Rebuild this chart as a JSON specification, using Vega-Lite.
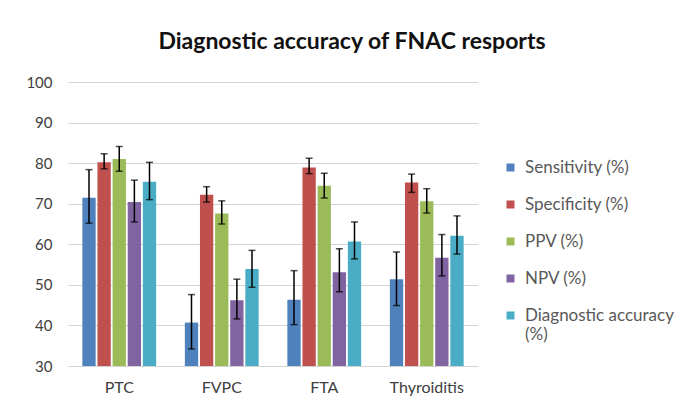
{
  "$schema": "https://vega.github.io/schema/vega-lite/v6.json",
  "width": 410,
  "height": 284,
  "autosize": {"type": "none"},
  "padding": {"left": 68, "top": 82, "right": 206, "bottom": 41},
  "background": "white",
  "title": {
    "text": "Diagnostic accuracy of FNAC resports",
    "font": "Lato",
    "fontSize": 23,
    "fontWeight": "bold",
    "color": "#111111",
    "anchor": "middle",
    "dx": 79,
    "offset": 21
  },
  "config": {
    "view": {"stroke": null},
    "font": "Lato"
  },
  "data": {
    "values": [
      {"group": "PTC", "measure": "Sensitivity (%)", "value": 71.5, "lo": 65.2, "hi": 78.4},
      {"group": "PTC", "measure": "Specificity (%)", "value": 80.2, "lo": 78.6, "hi": 82.3},
      {"group": "PTC", "measure": "PPV (%)", "value": 81.0, "lo": 78.0, "hi": 84.1},
      {"group": "PTC", "measure": "NPV (%)", "value": 70.4, "lo": 65.5, "hi": 75.8},
      {"group": "PTC", "measure": "Diagnostic accuracy (%)", "value": 75.4, "lo": 71.0, "hi": 80.2},
      {"group": "FVPC", "measure": "Sensitivity (%)", "value": 40.7, "lo": 34.2, "hi": 47.6},
      {"group": "FVPC", "measure": "Specificity (%)", "value": 72.2, "lo": 70.4, "hi": 74.2},
      {"group": "FVPC", "measure": "PPV (%)", "value": 67.6, "lo": 65.0, "hi": 70.7},
      {"group": "FVPC", "measure": "NPV (%)", "value": 46.2, "lo": 41.6, "hi": 51.4},
      {"group": "FVPC", "measure": "Diagnostic accuracy (%)", "value": 53.9, "lo": 49.4, "hi": 58.5},
      {"group": "FTA", "measure": "Sensitivity (%)", "value": 46.3, "lo": 40.2, "hi": 53.5},
      {"group": "FTA", "measure": "Specificity (%)", "value": 78.9, "lo": 77.4, "hi": 81.2},
      {"group": "FTA", "measure": "PPV (%)", "value": 74.4, "lo": 71.4, "hi": 77.5},
      {"group": "FTA", "measure": "NPV (%)", "value": 53.1, "lo": 48.3, "hi": 58.9},
      {"group": "FTA", "measure": "Diagnostic accuracy (%)", "value": 60.7, "lo": 56.4, "hi": 65.5},
      {"group": "Thyroiditis", "measure": "Sensitivity (%)", "value": 51.4, "lo": 44.9, "hi": 58.1},
      {"group": "Thyroiditis", "measure": "Specificity (%)", "value": 75.2, "lo": 72.8, "hi": 77.3},
      {"group": "Thyroiditis", "measure": "PPV (%)", "value": 70.6, "lo": 67.7, "hi": 73.7},
      {"group": "Thyroiditis", "measure": "NPV (%)", "value": 56.7, "lo": 52.2, "hi": 62.4},
      {"group": "Thyroiditis", "measure": "Diagnostic accuracy (%)", "value": 62.1, "lo": 57.6, "hi": 67.0}
    ]
  },
  "encoding": {
    "x": {
      "field": "group",
      "type": "nominal",
      "sort": ["PTC", "FVPC", "FTA", "Thyroiditis"],
      "scale": {"paddingInner": 0.28, "paddingOuter": 0.14},
      "axis": {
        "title": null,
        "labelAngle": 0,
        "labelFont": "Lato",
        "labelFontSize": 16,
        "labelColor": "#404040",
        "labelPadding": 13,
        "domain": false,
        "ticks": false,
        "grid": false
      }
    },
    "xOffset": {
      "field": "measure",
      "type": "nominal",
      "sort": ["Sensitivity (%)", "Specificity (%)", "PPV (%)", "NPV (%)", "Diagnostic accuracy (%)"],
      "scale": {"paddingInner": 0.12}
    }
  },
  "layer": [
    {
      "mark": {"type": "bar"},
      "encoding": {
        "y": {
          "field": "value",
          "type": "quantitative",
          "scale": {"domain": [30, 100], "nice": false, "zero": false},
          "axis": {
            "title": null,
            "values": [30, 40, 50, 60, 70, 80, 90, 100],
            "labelFont": "Lato",
            "labelFontSize": 15,
            "labelColor": "#404040",
            "labelPadding": 16,
            "domain": false,
            "ticks": false,
            "grid": true,
            "gridColor": "#d4d4d4",
            "gridWidth": 1
          }
        },
        "y2": {"datum": 30},
        "color": {
          "field": "measure",
          "type": "nominal",
          "sort": ["Sensitivity (%)", "Specificity (%)", "PPV (%)", "NPV (%)", "Diagnostic accuracy (%)"],
          "scale": {
            "domain": ["Sensitivity (%)", "Specificity (%)", "PPV (%)", "NPV (%)", "Diagnostic accuracy (%)"],
            "range": ["#4F81BD", "#C0504D", "#9BBB59", "#8064A2", "#4BACC6"]
          },
          "legend": {
            "title": null,
            "orient": "none",
            "legendX": 434,
            "legendY": 77,
            "symbolType": "square",
            "symbolSize": 64,
            "symbolStrokeWidth": 0,
            "labelFont": "Lato",
            "labelFontSize": 17,
            "labelColor": "#595959",
            "labelLimit": 250,
            "labelOffset": 6,
            "rowPadding": 19,
            "labelExpr": "datum.label == 'Diagnostic accuracy (%)' ? ['Diagnostic accuracy', '(%)'] : datum.label"
          }
        }
      }
    },
    {
      "mark": {"type": "rule", "color": "#000000", "strokeWidth": 1.5},
      "encoding": {
        "y": {"field": "lo", "type": "quantitative"},
        "y2": {"field": "hi"}
      }
    },
    {
      "mark": {"type": "tick", "color": "#000000", "thickness": 1.5, "size": 7},
      "encoding": {
        "y": {"field": "lo", "type": "quantitative"}
      }
    },
    {
      "mark": {"type": "tick", "color": "#000000", "thickness": 1.5, "size": 7},
      "encoding": {
        "y": {"field": "hi", "type": "quantitative"}
      }
    }
  ]
}
